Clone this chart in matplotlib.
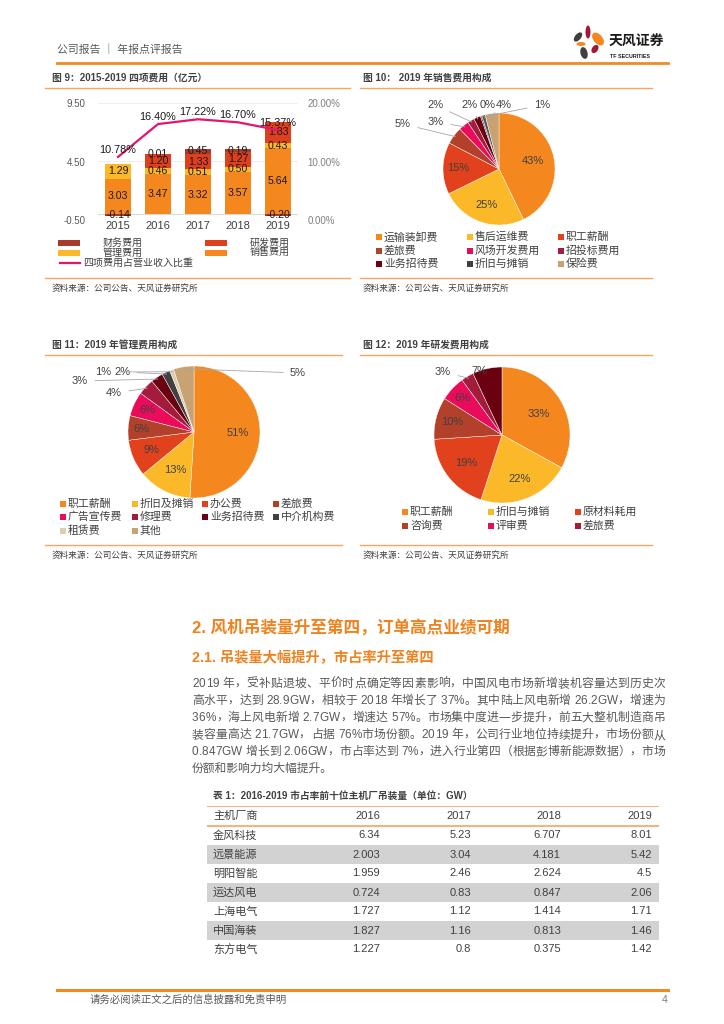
import numpy as np
import matplotlib
matplotlib.use('Agg')
import matplotlib.pyplot as plt
from matplotlib.patches import Rectangle, Ellipse
from matplotlib.lines import Line2D

# ---------------- data ----------------
years = ['2015', '2016', '2017', '2018', '2019']
sales_exp = [3.03, 3.47, 3.32, 3.57, 5.64]
mgmt_exp = [1.29, 0.46, 0.51, 0.50, 0.43]
rd_exp = [0.00, 1.20, 1.33, 1.27, 1.83]
fin_exp = [-0.14, 0.01, 0.45, 0.19, -0.20]
exp_ratio = [10.78, 16.40, 17.22, 16.70, 15.37]
fig9_legend = ['财务费用', '研发费用', '管理费用', '销售费用', '四项费用占营业收入比重']

sell_legend = ['运输装卸费', '售后运维费', '职工薪酬', '差旅费', '风场开发费用',
               '招投标费用', '业务招待费', '折旧与摊销', '保险费']
sell_vals = [43, 25, 15, 5, 3, 2, 2, 0.4, 1, 4]

mgmt_legend = ['职工薪酬', '折旧及摊销', '办公费', '差旅费', '广告宣传费', '修理费',
               '业务招待费', '中介机构费', '租赁费', '其他']
mgmt_vals = [51, 13, 9, 6, 6, 4, 3, 2, 1, 5]

rd_legend = ['职工薪酬', '折旧与摊销', '原材料耗用', '咨询费', '评审费', '差旅费']
rd_vals = [33, 22, 19, 10, 6, 3, 7]

table_header = ['主机厂商', '2016', '2017', '2018', '2019']
table_makers = ['金风科技', '远景能源', '明阳智能', '运达风电', '上海电气', '中国海装', '东方电气']
table_2016 = ['6.34', '2.003', '1.959', '0.724', '1.727', '1.827', '1.227']
table_2017 = ['5.23', '3.04', '2.46', '0.83', '1.12', '1.16', '0.8']
table_2018 = ['6.707', '4.181', '2.624', '0.847', '1.414', '0.813', '0.375']
table_2019 = ['8.01', '5.42', '4.5', '2.06', '1.71', '1.46', '1.42']

body_lines = [
    "2019 年，受补贴退坡、平价时点确定等因素影响，中国风电市场新增装机容量达到历史次",
    "高水平，达到 28.9GW，相较于 2018 年增长了 37%。其中陆上风电新增 26.2GW，增速为",
    "36%，海上风电新增 2.7GW，增速达 57%。市场集中度进一步提升，前五大整机制造商吊",
    "装容量高达 21.7GW，占据 76%市场份额。2019 年，公司行业地位持续提升，市场份额从",
    "0.847GW 增长到 2.06GW，市占率达到 7%，进入行业第四（根据彭博新能源数据），市场",
    "份额和影响力均大幅提升。",
]

# ---------------- style ----------------
plt.rcParams['font.family'] = ['Liberation Sans', 'Noto Sans CJK SC', 'DejaVu Sans']

ORANGE = '#F5871F'
YELLOW = '#FBB829'
RED = '#E1411D'
BROWN = '#B2402B'
PINK = '#EA0C5B'
CRIMSON = '#A41C3C'
DARKRED = '#6A0010'
GRAY = '#404040'
GRAY2 = '#5A5A5A'
TAN = '#C8A273'
LIGHTTAN = '#DDCDB2'
C_FIN = '#A83C2C'
C_RD = '#DF3F1C'
C_LINE = '#E2166E'
C_BOX = '#F6A660'
C_HEAD = '#F08B22'
TXT = '#404040'

W, H = 724, 1024
fig = plt.figure(figsize=(7.24, 10.24), dpi=100)


def X(px):
    return px / W


def Y(py):
    return 1 - py / H


def hline(x0, x1, y, color=C_BOX, lw=1.0):
    fig.add_artist(Line2D([X(x0), X(x1)], [Y(y), Y(y)], color=color, lw=lw,
                          transform=fig.transFigure))


def frect(x, y, w, h, color):
    fig.add_artist(Rectangle((X(x), Y(y + h)), w / W, h / H, transform=fig.transFigure,
                             color=color, lw=0))


def ftext(x, y, s, **kw):
    kw.setdefault('va', 'center')
    kw.setdefault('color', TXT)
    return fig.text(X(x), Y(y), s, **kw)


# ---------------- header / footer ----------------
ftext(57, 50, '公司报告 ｜ 年报点评报告', fontsize=7.8, color='#595959')
hline(57, 668, 63, color=C_HEAD, lw=2.0)
axl = fig.add_axes([X(568), Y(62), 40 / W, 40 / H])
axl.set_xlim(568, 608)
axl.set_ylim(62, 22)
axl.axis('off')
for (cx, cy, ew, eh, ang, col) in [
        (588, 32, 5, 13, 0, '#A3173A'), (598, 39, 9, 15, -40, ORANGE),
        (578, 37, 6, 11, 40, '#3F3F3F'), (581, 44, 9, 4, 0, ORANGE),
        (584, 53, 7, 12, -15, '#3F3F3F'), (595, 49, 6, 9, 35, '#A3173A')]:
    axl.add_patch(Ellipse((cx, cy), ew, eh, angle=ang, color=col, lw=0))
ftext(609, 42, '天风证券', fontsize=10, fontweight='bold', color='#1A1A1A')
ftext(610, 56, 'TF SECURITIES', fontsize=3.8, fontweight='bold', color='#1A1A1A')

hline(57, 668, 990, color=C_HEAD, lw=2.2)
ftext(90, 1000, '请务必阅读正文之后的信息披露和免责申明', fontsize=7.5, color='#595959')
ftext(668, 1000, '4', fontsize=7.5, color='#7F7F7F', ha='right')

# ---------------- chart boxes ----------------
ftext(52, 78, '图 9：2015-2019 四项费用（亿元）', fontsize=7, fontweight='bold')
ftext(363, 78, '图 10： 2019 年销售费用构成', fontsize=7, fontweight='bold')
ftext(52, 345, '图 11：2019 年管理费用构成', fontsize=7, fontweight='bold')
ftext(363, 345, '图 12：2019 年研发费用构成', fontsize=7, fontweight='bold')
for (x0, x1, y) in [(45, 350, 88), (45, 350, 278), (360, 652, 88), (360, 652, 278),
                    (45, 342, 355), (45, 342, 545), (360, 652, 355), (360, 652, 545)]:
    hline(x0, x1, y)
for (x, y) in [(52, 288), (363, 288), (52, 555), (363, 555)]:
    ftext(x, y, '资料来源：公司公告、天风证券研究所', fontsize=6.2)

# ---------------- Figure 9 ----------------
ax9 = fig.add_axes([X(98), Y(220), (298 - 98) / W, (220 - 103) / H])
xs = np.arange(len(years))
s = np.array(sales_exp)
m = np.array(mgmt_exp)
r = np.array(rd_exp)
f = np.array(fin_exp)
bw = 0.64
ax9.bar(xs, s, bw, color=ORANGE, zorder=2)
ax9.bar(xs, m, bw, bottom=s, color=YELLOW, zorder=2)
ax9.bar(xs, r, bw, bottom=s + m, color=C_RD, zorder=2)
fb = np.where(f >= 0, s + m + r, 0)
ax9.bar(xs, f, bw, bottom=fb, color=C_FIN, zorder=2)
for i in xs:
    for v, b in [(s[i], 0), (m[i], s[i]), (r[i], s[i] + m[i]), (f[i], fb[i])]:
        if v == 0:
            continue
        ax9.text(i, b + v / 2, f'{v:.2f}', ha='center', va='center', fontsize=7.6,
                 color='#1A1A1A', zorder=5)
ax9.set_xlim(-0.5, 4.5)
ax9.set_ylim(-0.5, 9.5)
ax9.set_yticks([-0.5, 4.5, 9.5], [f'{t:.2f}' for t in [-0.5, 4.5, 9.5]],
               fontsize=7, color='#595959')
ax9.set_xticks(xs, years, fontsize=8, color=TXT)
ax9.axhline(0, color='#D9D9D9', lw=0.8, zorder=1)
ax9.yaxis.grid(True, color='#EBEBEB', lw=0.6)
ax9.set_axisbelow(True)
for sp in ax9.spines.values():
    sp.set_visible(False)
ax9.tick_params(axis='y', length=0, pad=9)
ax9.tick_params(axis='x', length=0, pad=1)

ax9r = ax9.twinx()
ax9r.set_ylim(0, 20)
ax9r.set_yticks([0, 10, 20], [f'{t:.2f}%' for t in [0, 10, 20]], fontsize=7, color='#7F7F7F')
ax9r.tick_params(length=0, pad=7)
for sp in ax9r.spines.values():
    sp.set_visible(False)
ax9r.plot(xs, exp_ratio, color=C_LINE, lw=1.6, zorder=3)
for i, v in zip(xs, exp_ratio):
    ax9r.annotate(f'{v:.2f}%', (i, v), xytext=(0, 5), textcoords='offset points',
                  ha='center', va='center', fontsize=7.8, color='#1A1A1A')

# legend fig 9
frect(58, 240, 22, 6, C_FIN)
ftext(103, 243, fig9_legend[0], fontsize=7.2)
frect(205, 240, 22, 6, C_RD)
ftext(250, 243, fig9_legend[1], fontsize=7.2)
frect(58, 250, 22, 6, YELLOW)
ftext(103, 253, fig9_legend[2], fontsize=7.2)
frect(205, 250, 22, 6, ORANGE)
ftext(250, 253, fig9_legend[3], fontsize=7.2)
fig.add_artist(Line2D([X(60), X(80)], [Y(263), Y(263)], color=C_LINE, lw=1.6,
                      transform=fig.transFigure))
ftext(83, 263, fig9_legend[4], fontsize=7.2)


# ---------------- pies ----------------
def draw_pie(cx, cy, rad, vals, colors, inside, outside, plain=()):
    ax = fig.add_axes([X(cx - rad), Y(cy + rad), 2 * rad / W, 2 * rad / H])
    wedges, _ = ax.pie(vals, colors=colors, startangle=90, counterclock=False,
                       wedgeprops=dict(linewidth=0.3, edgecolor='white'))
    ax.set_xlim(-1, 1)
    ax.set_ylim(-1, 1)
    for i, wdg in enumerate(wedges):
        ang = np.deg2rad((wdg.theta1 + wdg.theta2) / 2)
        lab = f'{vals[i]:.0f}%'
        if i in inside:
            rr = inside[i]
            ax.text(rr * np.cos(ang), rr * np.sin(ang), lab, ha='center', va='center',
                    fontsize=8, color=TXT)
        elif i in outside:
            px, py = outside[i]
            ax.annotate(lab, xy=(0.97 * np.cos(ang), 0.97 * np.sin(ang)), xycoords='data',
                        xytext=(X(px), Y(py)), textcoords='figure fraction',
                        ha='center', va='center', fontsize=8, color=TXT,
                        arrowprops=dict(arrowstyle='-', color='#A6A6A6', lw=0.6,
                                        shrinkA=3, shrinkB=0))
        elif i in plain:
            px, py = plain[i]
            ftext(px, py, lab, ha='center', fontsize=8)
    return ax


def legend_grid(items, colors, xcols, yrows, fs=7.8):
    for k, (name, col) in enumerate(zip(items, colors)):
        c = k % len(xcols)
        rr = k // len(xcols)
        x, y = xcols[c], yrows[rr]
        frect(x, y - 3, 6, 6, col)
        ftext(x + 8, y, name, fontsize=fs)


sell_colors = [ORANGE, YELLOW, RED, BROWN, PINK, CRIMSON, DARKRED, GRAY, GRAY2, TAN]
draw_pie(499, 169, 56, sell_vals, sell_colors,
         inside={0: 0.62, 1: 0.68, 2: 0.72},
         outside={3: (403, 124), 4: (436, 122), 5: (435, 105), 6: (470, 105),
                  7: (488, 105), 8: (542, 105), 9: (504, 105)})
legend_grid(sell_legend, [ORANGE, YELLOW, RED, BROWN, PINK, CRIMSON, DARKRED, GRAY, TAN],
            [376, 467, 558], [237, 251, 264])

mgmt_colors = [ORANGE, YELLOW, RED, BROWN, PINK, CRIMSON, DARKRED, GRAY, LIGHTTAN, TAN]
draw_pie(194, 432, 66, mgmt_vals, mgmt_colors,
         inside={0: 0.66, 1: 0.64, 2: 0.7, 3: 0.8, 4: 0.78},
         outside={5: (114, 393), 6: (80, 381), 7: (122, 372), 8: (103, 372), 9: (298, 373)})
legend_grid(mgmt_legend, mgmt_colors, [60, 132, 202, 273], [504, 517, 531])

rd_colors = [ORANGE, YELLOW, RED, BROWN, PINK, CRIMSON, DARKRED]
draw_pie(502, 435, 68, rd_vals, rd_colors,
         inside={0: 0.62, 1: 0.7, 2: 0.66, 3: 0.76, 4: 0.8},
         outside={5: (443, 372)}, plain={6: (479, 371)})
legend_grid(rd_legend, rd_colors[:6], [402, 488, 575], [512, 526])

# ---------------- section text ----------------
ftext(192, 627, '2. 风机吊装量升至第四，订单高点业绩可期', fontsize=12, fontweight='bold',
      color='#F0821E')
ftext(192, 658, '2.1. 吊装量大幅提升，市占率升至第四', fontsize=10.3, fontweight='bold',
      color='#F0821E')

renderer = fig.canvas.get_renderer()
BODY_KW = dict(fontsize=8.5, color='#595959')


def text_w(st):
    t = fig.text(0, 0, st, **BODY_KW)
    w = t.get_window_extent(renderer).width
    t.remove()
    return w


def justified(line, x0, x1, y, justify=True):
    if not justify:
        ftext(x0, y, line, **BODY_KW)
        return
    ref = text_w('国')
    n = len(line)
    pre = [text_w(line[:k] + '国') - ref for k in range(n)]
    total = text_w(line + '国') - ref
    gap = ((x1 - x0) - total) / (n - 1)
    for k, ch in enumerate(line):
        if ch == ' ':
            continue
        ftext(x0 + pre[k] + k * gap, y, ch, **BODY_KW)


for k, line in enumerate(body_lines):
    justified(line, 192, 665, 684 + 17 * k, justify=(k < len(body_lines) - 1))

# ---------------- table ----------------
ftext(213, 796, '表 1：2016-2019 市占率前十位主机厂吊装量（单位：GW）', fontsize=7,
      fontweight='bold')
axt = fig.add_axes([X(207), Y(960), (659 - 207) / W, (960 - 806) / H])
axt.set_xlim(0, 452)
axt.set_ylim(154, 0)
axt.axis('off')
row_h = 19
head_h = 20
cols_right = [173, 264, 354, 445]
for i in range(len(table_makers)):
    if i % 2 == 1:
        axt.add_patch(Rectangle((0, head_h + row_h * i), 452, row_h, color='#D2D2D2', lw=0))
axt.axhline(0, color=C_BOX, lw=1.2)
axt.axhline(head_h, color=C_BOX, lw=1.2)
TKW = dict(fontsize=8, color='#404040', va='center')
axt.text(6, head_h / 2, table_header[0], **TKW)
for c, hname in enumerate(table_header[1:]):
    axt.text(cols_right[c], head_h / 2, hname, ha='right', **TKW)
for i, maker in enumerate(table_makers):
    yc = head_h + row_h * i + row_h / 2
    axt.text(6, yc, maker, **TKW)
    for c, col in enumerate([table_2016, table_2017, table_2018, table_2019]):
        axt.text(cols_right[c], yc, col[i], ha='right', **TKW)

fig.savefig('out.png', dpi=100)
